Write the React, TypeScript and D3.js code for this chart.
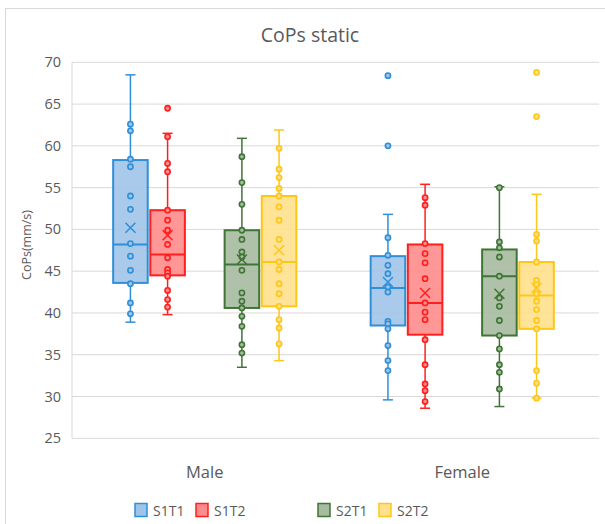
import React from 'react'
import * as d3 from 'd3'

const [W, H] = [605, 524]
const categories = ['Male', 'Female']
const seriesNames = ['S1T1', 'S1T2', 'S2T1', 'S2T2']
// Excel leaves an empty slot between the S1 and S2 pairs
const slots = ['S1T1', 'S1T2', '', 'S2T1', 'S2T2']
const yTicks = [25, 30, 35, 40, 45, 50, 55, 60, 65, 70]

// [series][category]
const whiskerLow = [[38.9, 29.6], [39.8, 28.6], [33.5, 28.8], [34.3, 29.8]]
const q1 = [[43.6, 38.5], [44.5, 37.4], [40.6, 37.3], [40.8, 38.1]]
const median = [[48.2, 43.0], [47.0, 41.2], [45.8, 44.4], [46.1, 42.1]]
const q3 = [[58.3, 46.8], [52.3, 48.2], [49.9, 47.6], [54.0, 46.1]]
const whiskerHigh = [[68.5, 51.8], [61.5, 55.4], [60.9, 55.1], [61.9, 54.2]]
const mean = [[50.2, 43.7], [49.3, 42.4], [46.4, 42.3], [47.5, 43.0]]

const malePoints = [
  [62.6, 61.8, 58.4, 57.5, 54.0, 52.4, 48.3, 46.8, 45.1, 43.5, 41.2, 39.9],
  [64.5, 61.1, 57.9, 56.9, 52.3, 51.1, 49.9, 48.2, 46.6, 45.2, 44.8, 44.4, 42.7, 41.6, 40.7],
  [58.7, 55.6, 53.0, 49.9, 48.8, 47.3, 46.7, 45.1, 42.4, 41.4, 40.6, 39.6, 38.4, 36.2, 35.2],
  [59.7, 57.2, 56.2, 54.9, 54.0, 52.7, 51.1, 48.8, 46.1, 45.2, 43.5, 42.3, 40.8, 39.2, 38.2, 36.3],
]
const femalePoints = [
  [68.4, 60.0, 49.0, 46.9, 45.7, 44.7, 43.1, 42.5, 39.0, 38.7, 38.1, 36.1, 34.3, 33.1],
  [53.8, 52.9, 48.3, 47.1, 46.0, 44.1, 41.2, 40.1, 39.2, 36.8, 33.8, 31.5, 30.7, 29.4],
  [55.0, 48.5, 47.8, 46.7, 44.4, 41.8, 40.8, 39.1, 37.3, 35.7, 33.8, 32.9, 30.9],
  [68.8, 63.5, 49.4, 48.6, 46.1, 43.9, 43.4, 42.3, 41.4, 40.4, 39.1, 38.1, 33.1, 31.6, 29.8],
]

const strokeColors = ['#2F8FD8', '#FF1F1F', '#3F7535', '#FFC61A']
const fillColors = ['#A0C4E8', '#FF8C8C', '#A6BBA0', '#FFE08C']

const textColor = '#595959'
const gridColor = '#D9D9D9'
const font = '"Open Sans", "Noto Sans", sans-serif'

export default function App() {
  const y = d3.scaleLinear().domain([25, 70]).range([438.3, 62.3])
  const x = d3.scaleBand().domain(categories).range([76, 591]).paddingInner(0)
  const inner = d3.scaleBand().domain(slots.map((s, i) => String(i)))
    .range([0, x.bandwidth()]).paddingOuter(1.0).paddingInner(0.07)
  const boxW = inner.bandwidth()
  const capW = 10
  const legendX = d3.scaleBand().domain(slots.map((s, i) => String(i))).range([135, 440])

  const boxes = categories.flatMap((cat, ci) =>
    seriesNames.map((name, si) => {
      const slot = slots.indexOf(name)
      const x0 = (x(cat) as number) + (inner(String(slot)) as number)
      const cx = x0 + boxW / 2
      const stroke = strokeColors[si]
      const fill = fillColors[si]
      const pts = ci === 0 ? malePoints[si] : femalePoints[si]
      const m = mean[si][ci]
      return (
        <g key={cat + name}>
          <line x1={cx} x2={cx} y1={y(whiskerHigh[si][ci])} y2={y(q3[si][ci])} stroke={stroke} strokeWidth={1.5} />
          <line x1={cx} x2={cx} y1={y(q1[si][ci])} y2={y(whiskerLow[si][ci])} stroke={stroke} strokeWidth={1.5} />
          <line x1={cx - capW / 2} x2={cx + capW / 2} y1={y(whiskerHigh[si][ci])} y2={y(whiskerHigh[si][ci])} stroke={stroke} strokeWidth={1.5} />
          <line x1={cx - capW / 2} x2={cx + capW / 2} y1={y(whiskerLow[si][ci])} y2={y(whiskerLow[si][ci])} stroke={stroke} strokeWidth={1.5} />
          <rect x={x0} y={y(q3[si][ci])} width={boxW} height={y(q1[si][ci]) - y(q3[si][ci])}
            fill={fill} fillOpacity={0.9} stroke={stroke} strokeWidth={2} />
          <line x1={x0} x2={x0 + boxW} y1={y(median[si][ci])} y2={y(median[si][ci])} stroke={stroke} strokeWidth={2} />
          {pts.map((v, i) => (
            <circle key={i} cx={cx} cy={y(v)} r={2.6} fill={fill} stroke={stroke} strokeWidth={1.6} />
          ))}
          <path d={`M${cx - 5},${y(m) - 5}L${cx + 5},${y(m) + 5}M${cx - 5},${y(m) + 5}L${cx + 5},${y(m) - 5}`}
            stroke={stroke} strokeWidth={1.5} fill="none" />
        </g>
      )
    })
  )

  return (
    <svg width={W} height={H} style={{ position: 'absolute', left: 0, top: 0, background: '#fff' }} fontFamily={font}>
      <rect x={5.5} y={8.5} width={620} height={540} fill="#fff" stroke={gridColor} />
      <text x={310} y={42} textAnchor="middle" fontSize={19.5} fill={textColor}>CoPs static</text>
      {yTicks.map(t => (
        <g key={t}>
          <line x1={72} x2={599} y1={y(t)} y2={y(t)} stroke={gridColor} strokeWidth={1} />
          <text x={61} y={y(t)} dy="0.35em" textAnchor="end" fontSize={14.5} fill={textColor}>{t}</text>
        </g>
      ))}
      <line x1={72} x2={72} y1={y(70)} y2={y(25)} stroke={gridColor} />
      <text transform={`translate(31,${245}) rotate(-90)`} textAnchor="middle" fontSize={12.5} fill={textColor}>CoPs(mm/s)</text>
      {categories.map(c => (
        <text key={c} x={(x(c) as number) + x.bandwidth() / 2} y={478} textAnchor="middle" fontSize={16.5} fill={textColor}>{c}</text>
      ))}
      {boxes}
      {slots.map((s, i) => {
        if (!s) return null
        const si = seriesNames.indexOf(s)
        const lx = legendX(String(i)) as number
        return (
          <g key={s}>
            <rect x={lx} y={503.5} width={12} height={13} fill={fillColors[si]} stroke={strokeColors[si]} strokeWidth={1.5} />
            <text x={lx + 18} y={511} dy="0.35em" fontSize={14} fill={textColor}>{s}</text>
          </g>
        )
      })}
    </svg>
  )
}
